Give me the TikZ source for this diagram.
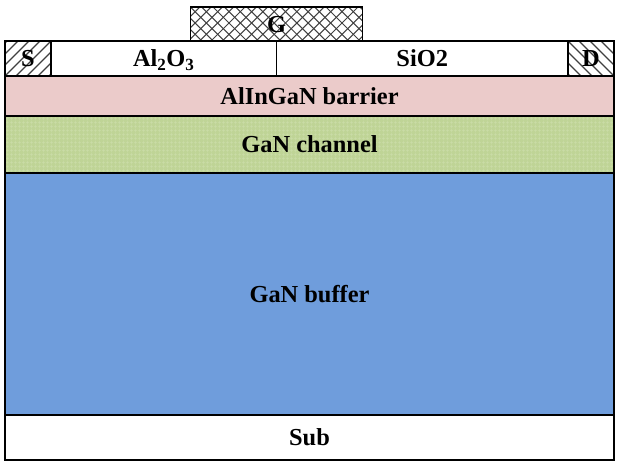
\documentclass[tikz,border=0pt]{standalone}
\usepackage{fontspec}
\setmainfont{Liberation Serif}
\definecolor{barrierpink}{HTML}{EBCBCA}
\definecolor{channelgreen}{HTML}{BFD496}
\definecolor{channelgrid}{HTML}{CBDCA8}
\definecolor{bufferblue}{HTML}{6F9DDC}
\definecolor{hatchgray}{HTML}{404040}
\usetikzlibrary{patterns.meta}
\tikzset{
  layer/.style={draw=black,line width=1.1pt,inner sep=0pt,outer sep=0pt,text height=16pt,text depth=0pt,font=\fontsize{24.4}{28}\selectfont\bfseries},
  hatchright/.style={layer,path picture={
    \foreach \k in {-33,-22,...,44}
      \draw[hatchgray,line width=1.4pt] ([xshift=\k pt]path picture bounding box.south west) -- ++(36pt,36pt);}},
  hatchleft/.style={layer,path picture={
    \foreach \k in {-44,-33,...,33}
      \draw[hatchgray,line width=1.4pt] ([xshift=\k pt]path picture bounding box.north west) -- ++(36pt,-36pt);}},
  crossed/.style={layer,path picture={
    \foreach \k in {0,...,19} {
      \draw[hatchgray,line width=1pt] ([xshift=\k*11.3pt-36pt]path picture bounding box.south west) -- ++(36pt,36pt);
      \draw[hatchgray,line width=1pt] ([xshift=\k*11.3pt]path picture bounding box.south west) -- ++(-36pt,36pt);}}},
  gridded/.style={layer,preaction={fill=channelgreen},pattern={Hatch[angle=0,distance=4pt,line width=0.7pt]},pattern color=channelgrid},
}
\begin{document}
\begin{tikzpicture}[x=1pt,y=-1pt]
\useasboundingbox (0,0) rectangle (619,466);
% stack of layers, bottom to top
\node[layer,minimum width=609pt,minimum height=45pt] (sub) at (309.5,437.5) {Sub};
\node[layer,fill=bufferblue,minimum width=609pt,minimum height=242pt] (buffer) at (309.5,294) {GaN buffer};
\node[gridded,minimum width=609pt,minimum height=57pt] (channel) at (309.5,144.5) {GaN channel};
\node[layer,fill=barrierpink,minimum width=609pt,minimum height=40pt] (barrier) at (309.5,96) {AlInGaN barrier};
% contacts and dielectrics
\node[hatchright,minimum width=46pt,minimum height=35pt] (source) at (28,58.5) {S};
\node[layer,minimum width=225.5pt,minimum height=35pt] (alox) at (163.75,58.5) {Al\textsubscript{2}O\textsubscript{3}};
\node[layer,minimum width=291.5pt,minimum height=35pt] (siox) at (422.25,58.5) {SiO2};
\node[hatchleft,minimum width=46pt,minimum height=35pt] (drain) at (591,58.5) {D};
% gate
\node[crossed,minimum width=172pt,minimum height=34pt] (gate) at (276.5,24) {G};
\end{tikzpicture}
\end{document}
